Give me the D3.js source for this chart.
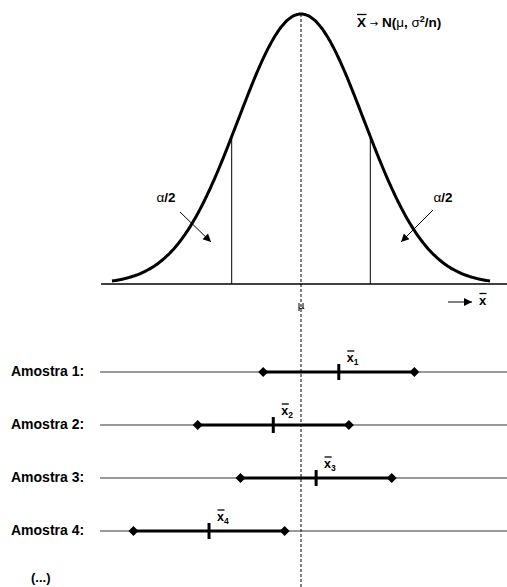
<!DOCTYPE html>
<html>
<head>
<meta charset="utf-8">
<script src="https://cdn.jsdelivr.net/npm/d3@7"></script>
<style>
  html, body { margin: 0; padding: 0; background: #fff; }
  svg { display: block; font-family: "Liberation Sans", Arial, sans-serif; }
</style>
</head>
<body>
<svg id="chart" width="507" height="587"></svg>
<script>
// ---- data ----
const zDomain = [-3, 3];                 // curve drawn over ±3 standard errors
const criticalZ = 1.1;                    // position of the vertical cut lines (α/2 tails)
const sampleLabels = ["Amostra 1:", "Amostra 2:", "Amostra 3:", "Amostra 4:"];
const sampleMeans = [0.60, -0.44, 0.24, -1.46];   // x̄_i in standard-error units
const halfWidths = [1.2, 1.2, 1.2, 1.2];         // interval half-widths
const meanSubscripts = ["1", "2", "3", "4"];

// ---- scales ----
const svg = d3.select("#chart");
const x = d3.scaleLinear().domain(zDomain).range([112, 490]);
const pdf = z => Math.exp(-z * z / 2) / Math.sqrt(2 * Math.PI);
const y = d3.scaleLinear().domain([0, pdf(0)]).range([284, 14]);
const rowY = d3.scalePoint().domain(sampleLabels).range([372, 531]);

// defs: arrowhead
svg.append("defs").append("marker")
  .attr("id", "arr").attr("viewBox", "0 0 10 10").attr("refX", 10).attr("refY", 5)
  .attr("markerWidth", 10).attr("markerHeight", 8).attr("markerUnits", "userSpaceOnUse")
  .attr("orient", "auto")
  .append("path").attr("d", "M0,0 L10,5 L0,10 Z").attr("fill", "#000");

// baseline
svg.append("line").attr("x1", 101).attr("x2", 507).attr("y1", y(0)).attr("y2", y(0))
  .attr("stroke", "#000").attr("stroke-width", 1.5);

// cut lines
[-criticalZ, criticalZ].forEach(z => {
  svg.append("line").attr("x1", x(z)).attr("x2", x(z)).attr("y1", y(0)).attr("y2", y(pdf(z)))
    .attr("stroke", "#000").attr("stroke-width", 1);
});

// curve
const pts = d3.range(zDomain[0], zDomain[1] + 1e-9, 0.02).map(z => [z, pdf(z)]);
svg.append("path").datum(pts)
  .attr("d", d3.line().x(d => x(d[0])).y(d => y(d[1])).curve(d3.curveBasis))
  .attr("fill", "none").attr("stroke", "#000").attr("stroke-width", 3);

// dashed mean line
svg.append("line").attr("x1", x(0)).attr("x2", x(0)).attr("y1", y(pdf(0))).attr("y2", 587)
  .attr("stroke", "#000").attr("stroke-width", 1).attr("stroke-dasharray", "3,2");

// top label: X̄ → N(μ, σ²/n)
const topLabel = svg.append("text").attr("x", 357).attr("y", 27)
  .attr("font-size", 13.5).attr("font-weight", "bold");
topLabel.append("tspan").text("X ");
topLabel.append("tspan").attr("font-weight", "normal").attr("font-family", "DejaVu Sans")
  .attr("font-size", 10).text("→");
topLabel.append("tspan").text(" N(");
topLabel.append("tspan").attr("font-weight", "normal").text("μ");
topLabel.append("tspan").text(", ");
topLabel.append("tspan").attr("font-weight", "normal").text("σ");
topLabel.append("tspan").attr("font-size", 9).attr("dy", -5).text("2");
topLabel.append("tspan").attr("dy", 5).text("/n)");
svg.append("line").attr("x1", 357).attr("x2", 366.5).attr("y1", 14.5).attr("y2", 14.5)
  .attr("stroke", "#000").attr("stroke-width", 1.3);

// α/2 labels and arrows
function alphaLabel(cx) {
  const t = svg.append("text").attr("x", cx).attr("y", 202).attr("text-anchor", "middle")
    .attr("font-size", 13.5);
  t.append("tspan").text("α");
  t.append("tspan").attr("font-weight", "bold").text("/2");
}
alphaLabel(166);
alphaLabel(443);
svg.append("line").attr("x1", 180).attr("y1", 212).attr("x2", 211).attr("y2", 242)
  .attr("stroke", "#000").attr("stroke-width", 1).attr("marker-end", "url(#arr)");
svg.append("line").attr("x1", 433).attr("y1", 210).attr("x2", 401).attr("y2", 242)
  .attr("stroke", "#000").attr("stroke-width", 1).attr("marker-end", "url(#arr)");

// μ label
svg.append("text").attr("x", x(0)).attr("y", 309).attr("text-anchor", "middle")
  .attr("font-family", "DejaVu Sans").attr("font-size", 11).attr("fill", "#000").text("μ");

// x̄ axis arrow
svg.append("line").attr("x1", 448).attr("y1", 302).attr("x2", 472).attr("y2", 302)
  .attr("stroke", "#000").attr("stroke-width", 1).attr("marker-end", "url(#arr)");
svg.append("text").attr("x", 479).attr("y", 305).attr("font-size", 13)
  .attr("font-weight", "bold").text("x");
svg.append("line").attr("x1", 479.5).attr("x2", 486.5).attr("y1", 293.5).attr("y2", 293.5)
  .attr("stroke", "#000").attr("stroke-width", 1.3);

// samples
const rows = svg.selectAll("g.row").data(sampleLabels).join("g").attr("class", "row")
  .attr("transform", d => `translate(0,${rowY(d)})`);

rows.append("text").attr("x", 11).attr("y", 4).attr("font-size", 14)
  .attr("font-weight", "bold").text(d => d);

rows.append("line").attr("x1", 100).attr("x2", 507).attr("y1", 0).attr("y2", 0)
  .attr("stroke", "#333").attr("stroke-width", 1);

rows.append("line")
  .attr("x1", (d, i) => x(sampleMeans[i] - halfWidths[i]))
  .attr("x2", (d, i) => x(sampleMeans[i] + halfWidths[i]))
  .attr("y1", 0).attr("y2", 0).attr("stroke", "#000").attr("stroke-width", 3);

rows.each(function (d, i) {
  const g = d3.select(this);
  [sampleMeans[i] - halfWidths[i], sampleMeans[i] + halfWidths[i]].forEach(v => {
    g.append("path").attr("d", d3.symbol().type(d3.symbolSquare).size(50)())
      .attr("transform", `translate(${x(v)},0) rotate(45)`).attr("fill", "#000");
  });
  const mx = x(sampleMeans[i]);
  g.append("line").attr("x1", mx).attr("x2", mx).attr("y1", -8).attr("y2", 8)
    .attr("stroke", "#000").attr("stroke-width", 3);
  const t = g.append("text").attr("x", mx + 8).attr("y", -10).attr("font-size", 12.5)
    .attr("font-weight", "bold");
  t.append("tspan").text("x");
  t.append("tspan").attr("font-size", 8.5).attr("dy", 3).text(meanSubscripts[i]);
  g.append("line").attr("x1", mx + 8.5).attr("x2", mx + 15.5).attr("y1", -21).attr("y2", -21)
    .attr("stroke", "#000").attr("stroke-width", 1.3);
});

// (...)
svg.append("text").attr("x", 31).attr("y", 582).attr("font-size", 13)
  .attr("font-weight", "bold").text("(...)");
</script>
</body>
</html>
